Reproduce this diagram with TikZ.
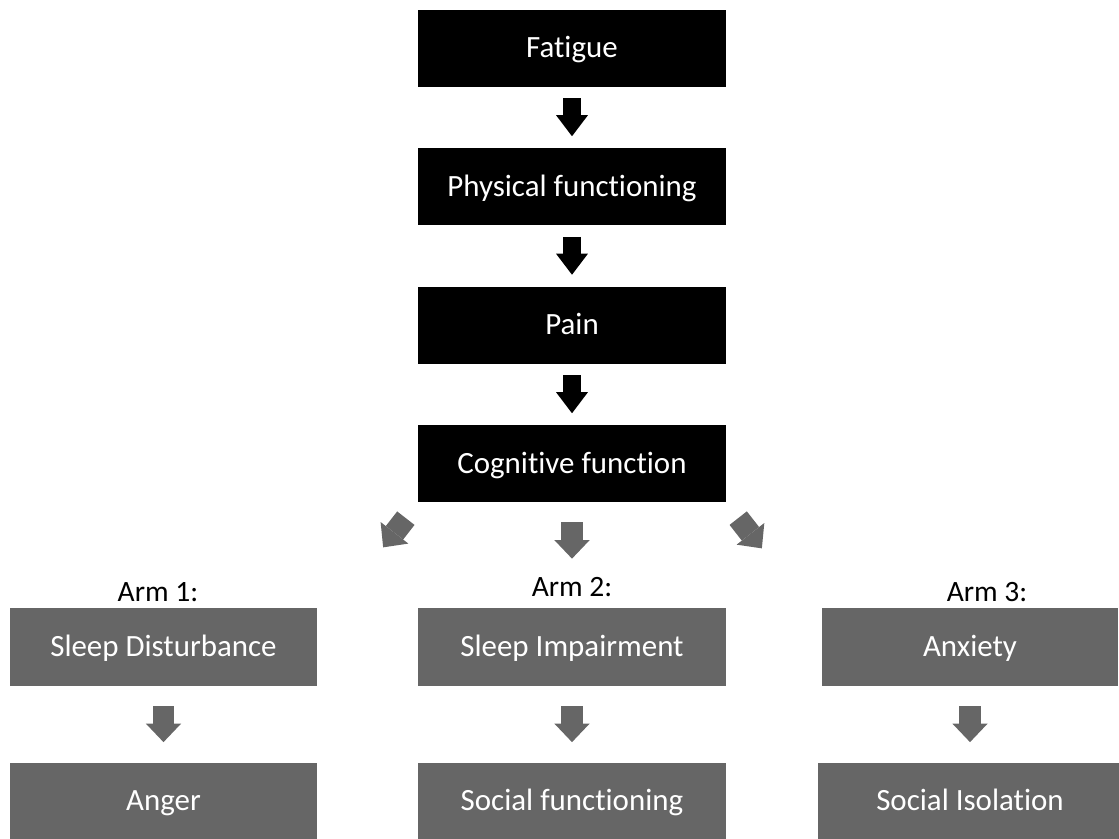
\documentclass[tikz,border=0pt]{standalone}
\usepackage{fontspec}
\setmainfont{Carlito}[Ligatures=NoCommon]
\usepackage{xcolor}
\usetikzlibrary{positioning, arrows.meta, calc}
\definecolor{armgray}{HTML}{666666}

\begin{document}
\begin{tikzpicture} [node distance = 2.77cm, on grid,
        box/.style = {rectangle, fill=black, text=white, minimum width=6.14cm,
            minimum height=1.54cm, text height=13pt, text depth=2pt,
            font=\fontsize{17.6}{20}\selectfont},
        armbox/.style = {box, fill=armgray},
        armlabel/.style = {font=\fontsize{16.8}{19}\selectfont, inner sep=0pt},
        blackarrow/.style = {line width=10.8pt, shorten <=6.5pt, shorten >=6.5pt,
            -{Triangle[width=18.2pt, length=12pt, line width=0pt]}},
        grayarrow/.style = {armgray, line width=12.5pt, shorten <=11.4pt, shorten >=11.4pt,
            -{Triangle[width=20pt, length=10.5pt, line width=0pt]}}]

        \useasboundingbox (-11.44,0.96) rectangle (10.94,-15.80);

        \node (fat) [box] {Fatigue}; \node (phys) [box, below = of fat]
        {Physical functioning}; \node (pain) [box, below = of phys] {Pain};
        \node (cog) [box, below = of pain] {Cognitive function};

        \node (si) [armbox, below = 3.67cm of cog, minimum height=1.56cm]
        {Sleep Impairment}; \node (sd) [armbox, left = 8.17cm of si,
        minimum height=1.56cm] {Sleep Disturbance}; \node (anx) [armbox,
        right = 7.96cm of si, minimum width=5.92cm, minimum height=1.56cm]
        {Anxiety};
        \node (sf) [armbox, below = 3.08cm of si] {Social functioning};
        \node (anger) [armbox, below = 3.08cm of sd] {Anger}; \node (iso)
        [armbox, below = 3.08cm of anx, minimum width=6.08cm] {Social Isolation};

        \node (arm1) [armlabel, above = 0.12cm of sd.north, anchor=base, xshift=-0.11cm] {Arm 1:};
        \node (arm2) [armlabel, above = 0.22cm of si.north, anchor=base] {Arm 2:};
        \node (arm3) [armlabel, above = 0.12cm of anx.north, anchor=base, xshift=0.34cm] {Arm 3:};

        \coordinate (leftend) at ($(cog.south west)+(-0.70,-0.90)$);
        \coordinate (rightend) at ($(cog.south east)+(0.72,-0.92)$);

        \path [blackarrow]
            (fat) edge (phys) (phys) edge (pain) (pain) edge (cog);
        \path [grayarrow]
            (cog.south) edge [shorten >=27.9pt] (si) (cog.south west) edge
            [shorten >=0pt] (leftend) (cog.south east) edge [shorten >=0pt]
            (rightend) (sd) edge (anger) (si) edge (sf) (anx) edge (iso);
    \end{tikzpicture}
\end{document}
